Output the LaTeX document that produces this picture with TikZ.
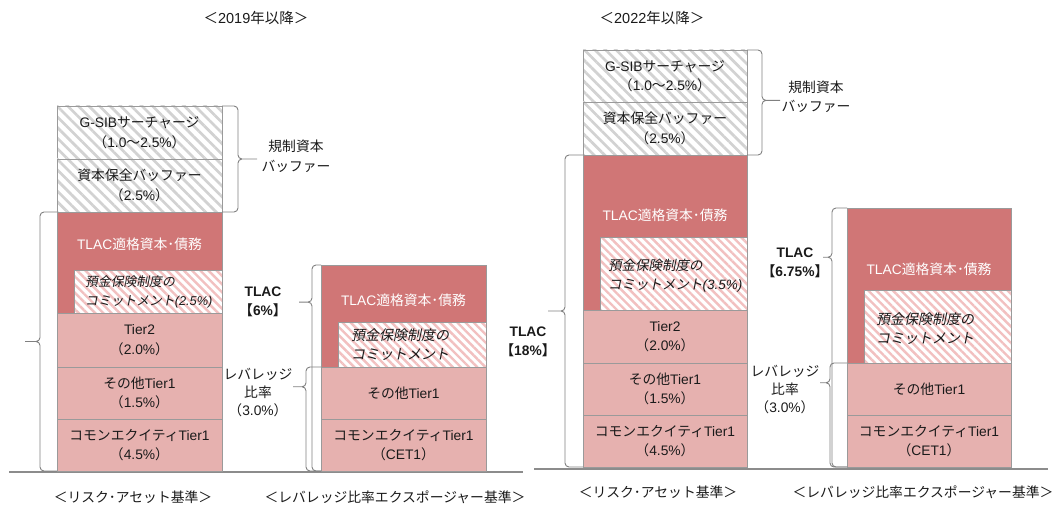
\documentclass[tikz,border=0pt]{standalone}
\usepackage{fontspec}
\setmainfont{Noto Sans CJK JP}
\newfontfamily\enf{Liberation Sans}
\newfontfamily\jpit{Noto Sans CJK JP}[FakeSlant=0.2]
\newcommand\en[1]{{\enf #1}}
\newcommand\eni[1]{{\enf\itshape #1}}
\usetikzlibrary{patterns.meta,calc}
\definecolor{tred}{HTML}{D07676}
\definecolor{tpink}{HTML}{E6B1AF}
\definecolor{bgray}{HTML}{9A9A9A}
\definecolor{hgray}{HTML}{D2D2D2}
\definecolor{hpink}{HTML}{F2C0C0}
\definecolor{brgray}{HTML}{808080}
\definecolor{basegray}{HTML}{8C8C8C}
\definecolor{txt}{HTML}{1A1A1A}
\tikzset{
  box/.style 2 args={draw=bgray, line width=0.8pt, inner sep=0pt, outer sep=0pt,
    anchor=north west, minimum width=#1, minimum height=#2, align=center, text=txt},
  buf/.style={pattern={Lines[angle=-45,distance=7.5pt,line width=2.7pt]}, pattern color=hgray},
  dep/.style={preaction={fill=white}, pattern={Lines[angle=-45,distance=5.8pt,line width=2.4pt]}, pattern color=hpink},
  redbox/.style={fill=tred},
  pinkbox/.style={fill=tpink},
  lbl/.style={inner sep=0pt, align=center, text=txt},
  wlbl/.style={inner sep=0pt, align=center, text=white},
  itl/.style={inner sep=0pt, align=left, text=txt},
  bold/.style={font={\fontsize{13.8}{19.5}\selectfont\bfseries}},
  brc/.style={draw=brgray, line width=0.9pt, rounded corners=4pt},
  baseln/.style={draw=basegray, line width=1.6pt},
}
% #1 top anchor, #2 bottom anchor, #3 line offset, #4 tip offset, #5 tip fraction from top
\newcommand\bracemark[5]{%
  \draw[brc] let \p1=(#1), \p2=(#2), \p3=($(#1)!#5!(#2)$) in
    (\x1+#3pt+#4pt,\y3) -- (\x1+#3pt,\y3) -- (\x1+#3pt,\y2) -- (\p2)
    (\x1+#3pt+#4pt,\y3) -- (\x1+#3pt,\y3) -- (\x1+#3pt,\y1) -- (\p1);}
\begin{document}
\begin{tikzpicture}[x=1pt,y=-1pt,font=\fontsize{13.8}{19.5}\selectfont]
\useasboundingbox (0,0) rectangle (1056,505);
% titles
\node[lbl,font=\fontsize{14.5}{19}\selectfont] (ttlA) at (256,18) {＜\en{2019}年以降＞};
\node[lbl,font=\fontsize{14.5}{19}\selectfont] (ttlC) at (652,18) {＜\en{2022}年以降＞};
% baselines
\coordinate (blA) at (9,472); \coordinate (brA) at (523,472);
\coordinate (blC) at (534,469); \coordinate (brC) at (1048,469);
\draw[baseln] (blA) -- (brA);
\draw[baseln] (blC) -- (brC);
% ===== 2019 risk asset column
\node[box={165pt}{53pt},buf] (gsibA) at (57,106) {\en{G-SIB}サーチャージ\\（\en{1.0}～\en{2.5\%}）};
\node[box={165pt}{53pt},buf] (bufA) at (57,159) {資本保全バッファー\\（\en{2.5\%}）};
\node[box={165pt}{101pt},redbox] (tlacA) at (57,212) {};
\node[wlbl] (tlacAt) at (139.5,244) {\en{TLAC}適格資本･債務};
\node[box={148pt}{43pt},dep] (depA) at (74,270) {};
\node[itl,font=\jpit\fontsize{12.8}{19}\selectfont,anchor=west] (depAt) at (85,292) {預金保険制度の\\コミットメント\eni{(2.5\%)}};
\node[box={165pt}{54pt},pinkbox] (t2A) at (57,313) {\en{Tier2}\\（\en{2.0\%}）};
\node[box={165pt}{52pt},pinkbox] (ot1A) at (57,367) {その他\en{Tier1}\\（\en{1.5\%}）};
\node[box={165pt}{52pt},pinkbox] (cetA) at (57,419) {コモンエクイティ\en{Tier1}\\（\en{4.5\%}）};
% ===== 2019 leverage column
\node[box={165pt}{102pt},redbox] (tlacB) at (321,265) {};
\node[wlbl] (tlacBt) at (403.5,300) {\en{TLAC}適格資本･債務};
\node[box={148pt}{45pt},dep] (depB) at (338,322) {};
\node[itl,font=\jpit\fontsize{14}{19}\selectfont,anchor=west] (depBt) at (351,345) {預金保険制度の\\コミットメント};
\node[box={165pt}{52pt},pinkbox] (ot1B) at (321,367) {その他\en{Tier1}};
\node[box={165pt}{52pt},pinkbox] (cetB) at (321,419) {コモンエクイティ\en{Tier1}\\（\en{CET1}）};
% ===== 2022 risk asset column
\node[box={164pt}{52pt},buf] (gsibC) at (583,50) {\en{G-SIB}サーチャージ\\（\en{1.0}～\en{2.5\%}）};
\node[box={164pt}{53pt},buf] (bufC) at (583,102) {資本保全バッファー\\（\en{2.5\%}）};
\node[box={164pt}{155pt},redbox] (tlacC) at (583,155) {};
\node[wlbl] (tlacCt) at (665,215) {\en{TLAC}適格資本･債務};
\node[box={147pt}{73pt},dep] (depC) at (600,237) {};
\node[itl,font=\jpit\fontsize{13.5}{19}\selectfont,anchor=west] (depCt) at (608,276) {預金保険制度の\\コミットメント\eni{(3.5\%)}};
\node[box={164pt}{53pt},pinkbox] (t2C) at (583,310) {\en{Tier2}\\（\en{2.0\%}）};
\node[box={164pt}{52pt},pinkbox] (ot1C) at (583,363) {その他\en{Tier1}\\（\en{1.5\%}）};
\node[box={164pt}{52pt},pinkbox] (cetC) at (583,415) {コモンエクイティ\en{Tier1}\\（\en{4.5\%}）};
% ===== 2022 leverage column
\node[box={164pt}{155pt},redbox] (tlacD) at (847,208) {};
\node[wlbl] (tlacDt) at (929,269) {\en{TLAC}適格資本･債務};
\node[box={147pt}{73pt},dep] (depD) at (864,290) {};
\node[itl,font=\jpit\fontsize{14}{19}\selectfont,anchor=west] (depDt) at (876,329) {預金保険制度の\\コミットメント};
\node[box={164pt}{52pt},pinkbox] (ot1D) at (847,363) {その他\en{Tier1}};
\node[box={164pt}{52pt},pinkbox] (cetD) at (847,415) {コモンエクイティ\en{Tier1}\\（\en{CET1}）};
% ===== side labels
\node[lbl] (bufLA) at (296,156) {規制資本\\バッファー};
\node[lbl] (bufLC) at (816,97) {規制資本\\バッファー};
\node[lbl,bold] (tlac6) at (263,302) {\en{TLAC}\\【\en{6\%}】};
\node[lbl,bold] (tlac18) at (528,342) {\en{TLAC}\\【\en{18\%}】};
\node[lbl,bold] (tlac675) at (795,263) {\en{TLAC}\\【\en{6.75\%}】};
\node[lbl,font=\fontsize{13.8}{18}\selectfont] (levA) at (258,393) {レバレッジ\\比率\\（\en{3.0\%}）};
\node[lbl,font=\fontsize{13.8}{18}\selectfont] (levC) at (785,390) {レバレッジ\\比率\\（\en{3.0\%}）};
% ===== bottom labels
\node[lbl] (baseA1) at (133,497) {＜リスク･アセット基準＞};
\node[lbl] (baseA2) at (395,497) {＜レバレッジ比率エクスポージャー基準＞};
\node[lbl] (baseC1) at (658,492) {＜リスク･アセット基準＞};
\node[lbl] (baseC2) at (923,492) {＜レバレッジ比率エクスポージャー基準＞};
% ===== braces
\bracemark{tlacA.north west}{cetA.south west}{-17}{-15}{0.5}
\bracemark{gsibA.north east}{bufA.south east}{16}{19}{0.5}
\bracemark{tlacB.north west}{cetB.south west}{-9}{-13}{0.18}
\bracemark{ot1B.north west}{cetB.south west}{-15}{-13}{0.19}
\bracemark{tlacC.north west}{cetC.south west}{-18}{-17}{0.5}
\bracemark{gsibC.north east}{bufC.south east}{15}{18}{0.48}
\bracemark{tlacD.north west}{cetD.south west}{-15}{-9}{0.19}
\bracemark{ot1D.north west}{cetD.south west}{-17}{-10}{0.19}
\end{tikzpicture}
\end{document}
